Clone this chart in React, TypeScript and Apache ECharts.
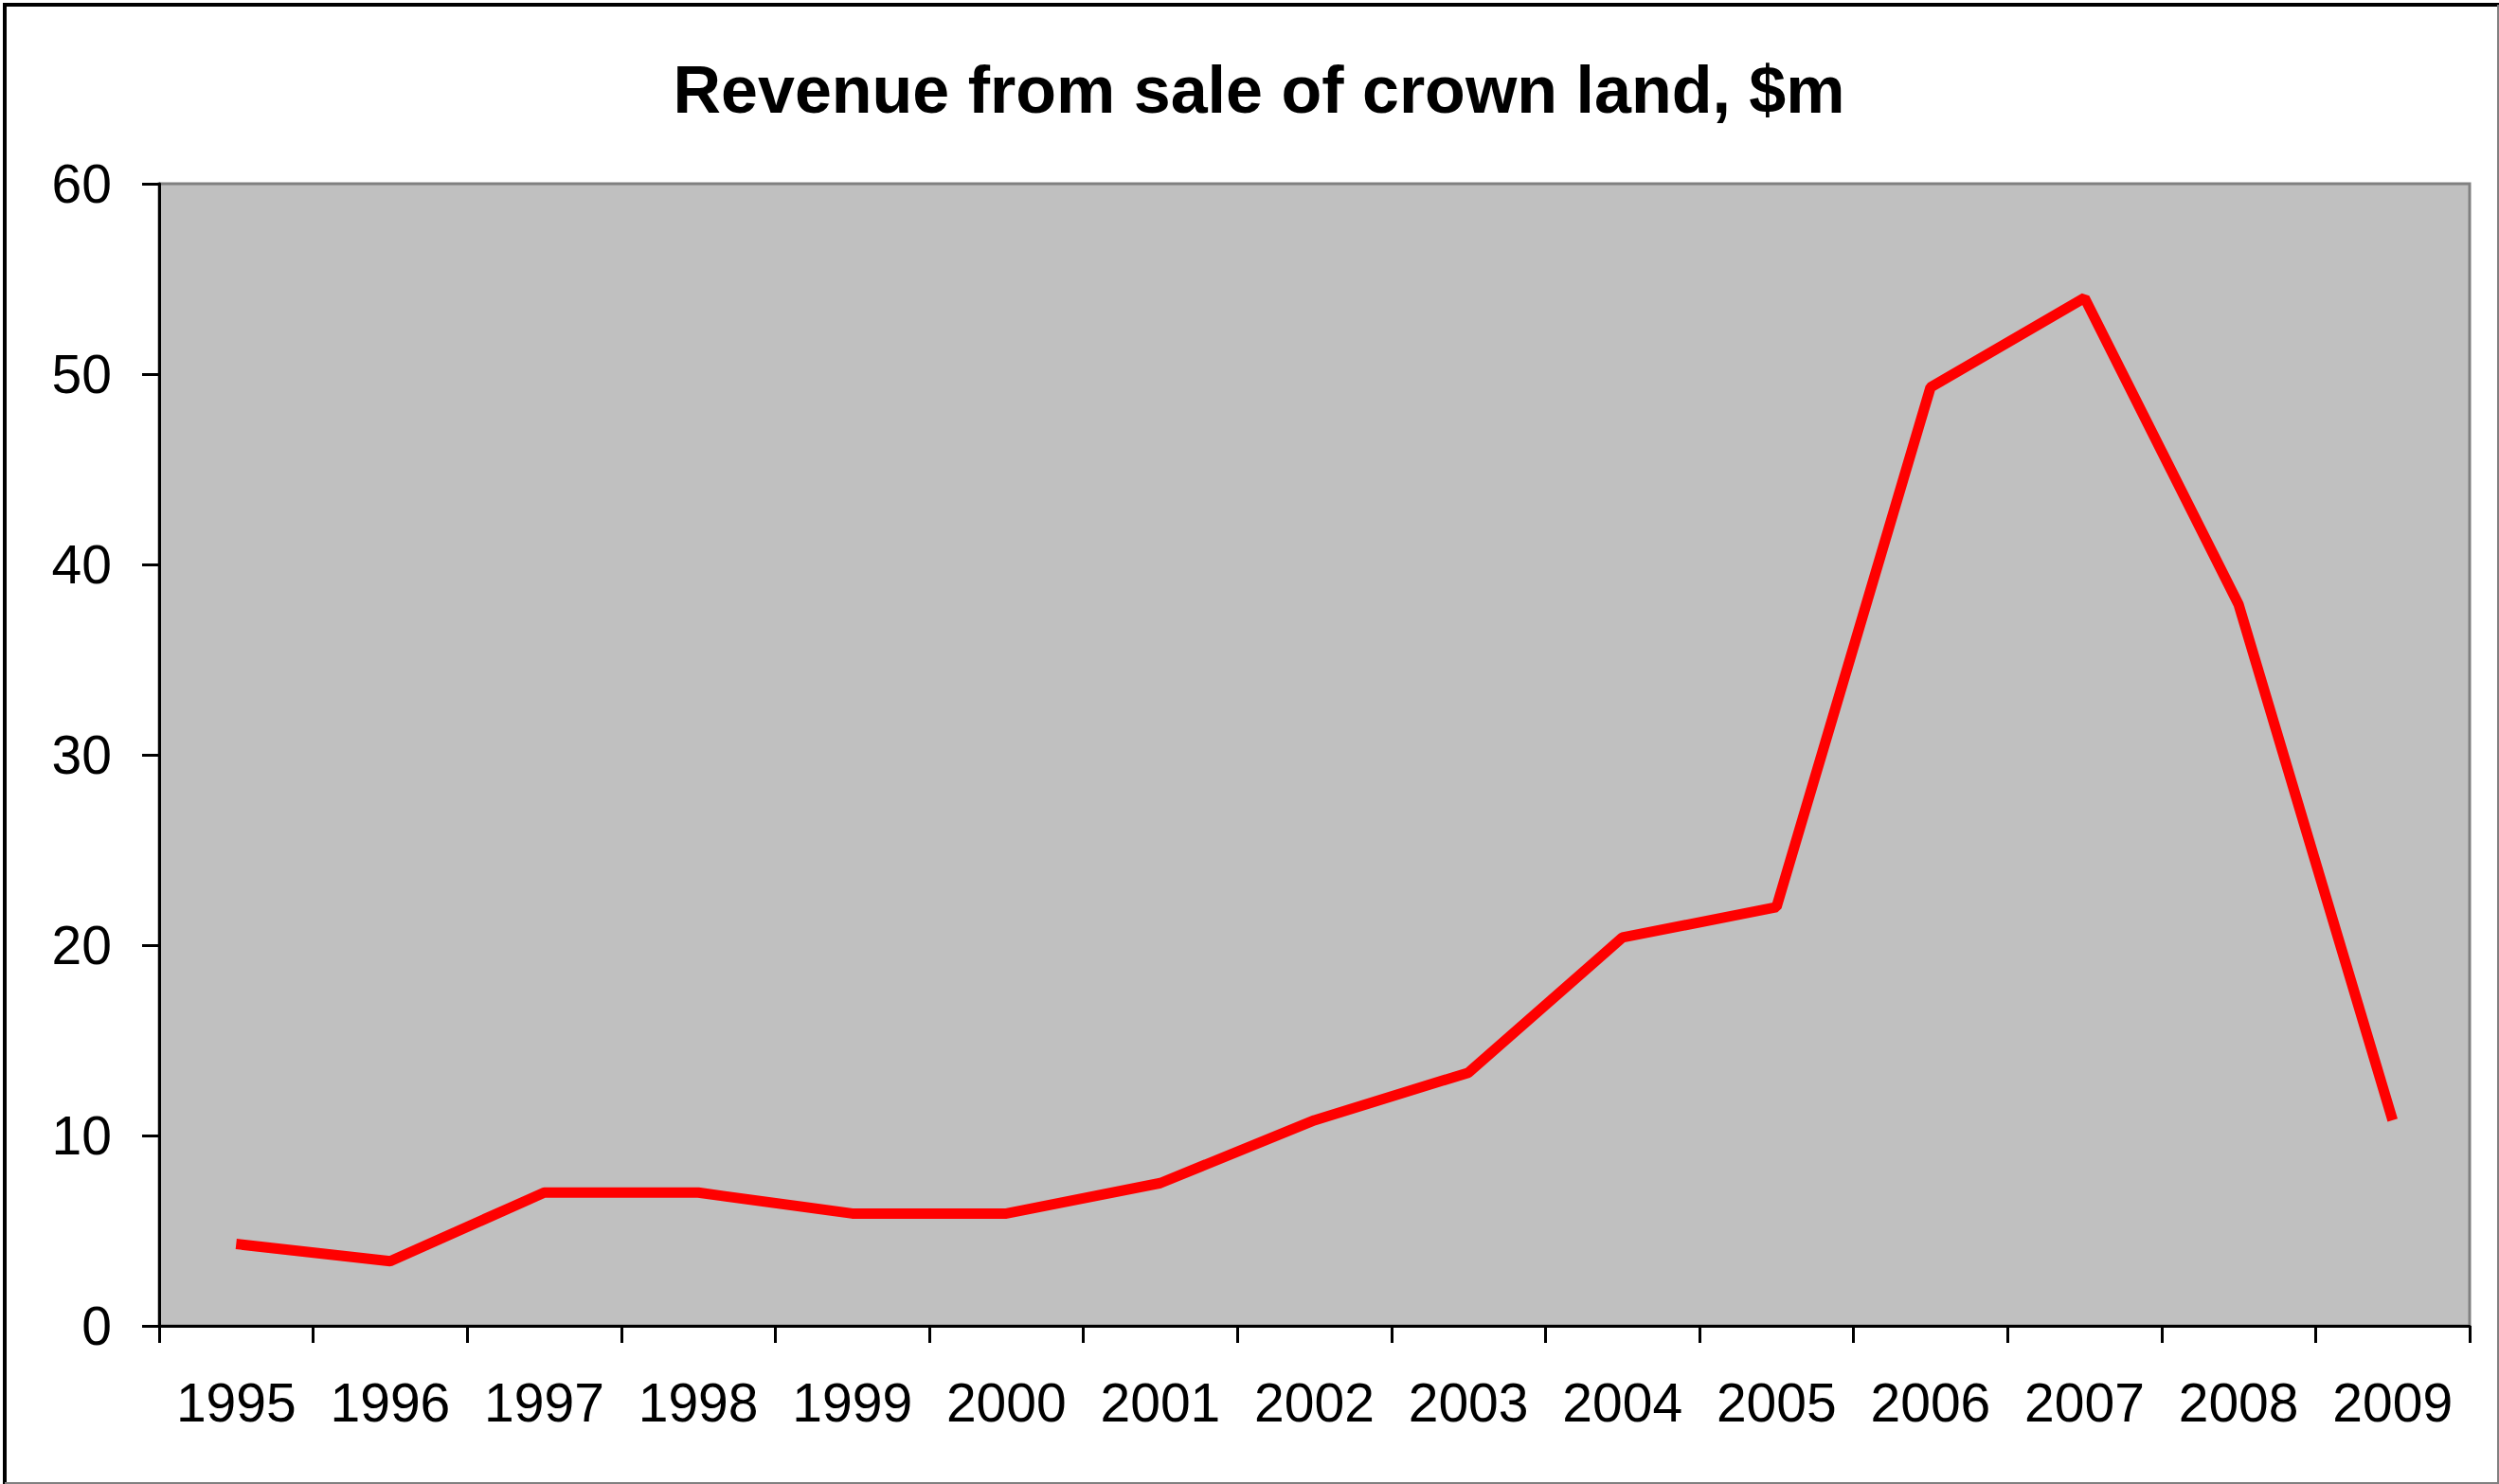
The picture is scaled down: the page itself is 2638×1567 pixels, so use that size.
import React, { useEffect, useRef } from "react";
import * as echarts from "echarts";

const TITLE = "Revenue from sale of crown land, $m";
const years = ["1995", "1996", "1997", "1998", "1999", "2000", "2001", "2002", "2003", "2004", "2005", "2006", "2007", "2008", "2009"];
const revenue = [4.3, 3.4, 7.0, 7.0, 5.9, 5.9, 7.5, 10.8, 13.3, 20.4, 22.0, 49.3, 54.0, 37.9, 10.8];
const yMin = 0;
const yMax = 60;
const yStep = 10;

const FONT = "'Liberation Sans', Arial, Helvetica, sans-serif";
const W = 2638;
const H = 1567;

export default function App() {
  const ref = useRef<HTMLDivElement>(null);

  useEffect(() => {
    document.body.style.margin = "0";
    if (!ref.current) return;
    const chart = echarts.init(ref.current, null, { renderer: "svg" });
    chart.setOption({
      animation: false,
      backgroundColor: "#ffffff",
      title: {
        text: TITLE,
        left: 1324,
        top: 55,
        textAlign: "center",
        textStyle: {
          fontFamily: FONT,
          fontWeight: "bold",
          fontSize: 70,
          color: "#000000",
        },
      },
      grid: {
        left: 168,
        right: 31,
        top: 194,
        bottom: 167,
        show: true,
        backgroundColor: "#C0C0C0",
        borderColor: "#808080",
        borderWidth: 3,
        containLabel: false,
      },
      xAxis: {
        type: "category",
        data: years,
        boundaryGap: true,
        axisLine: { show: true, lineStyle: { color: "#000000", width: 3 } },
        axisTick: {
          show: true,
          inside: false,
          length: 18,
          interval: 0,
          alignWithLabel: false,
          lineStyle: { color: "#000000", width: 3 },
        },
        axisLabel: {
          interval: 0,
          margin: 52,
          fontFamily: FONT,
          fontSize: 57,
          color: "#000000",
        },
        splitLine: { show: false },
      },
      yAxis: {
        type: "value",
        min: yMin,
        max: yMax,
        interval: yStep,
        axisLine: { show: true, lineStyle: { color: "#000000", width: 3 } },
        axisTick: {
          show: true,
          inside: false,
          length: 18,
          lineStyle: { color: "#000000", width: 3 },
        },
        axisLabel: {
          margin: 50,
          fontFamily: FONT,
          fontSize: 57,
          color: "#000000",
        },
        splitLine: { show: false },
      },
      series: [
        {
          type: "line",
          data: revenue,
          symbol: "none",
          lineStyle: { color: "#FF0000", width: 11, cap: "butt", join: "bevel" },
          itemStyle: { color: "#FF0000" },
        },
      ],
      graphic: [
        {
          type: "rect",
          shape: { x: 5, y: 5, width: 2640, height: 1580 },
          style: { fill: "none", stroke: "#000000", lineWidth: 4 },
          silent: true,
        },
        {
          type: "line",
          shape: { x1: 2637, y1: 5, x2: 2637, y2: 1567 },
          style: { stroke: "#808080", lineWidth: 2 },
          silent: true,
        },
        {
          type: "line",
          shape: { x1: 5, y1: 1566, x2: 2638, y2: 1566 },
          style: { stroke: "#808080", lineWidth: 2 },
          silent: true,
        },
      ],
    });
    return () => chart.dispose();
  }, []);

  return <div ref={ref} style={{ width: W, height: H }} />;
}
